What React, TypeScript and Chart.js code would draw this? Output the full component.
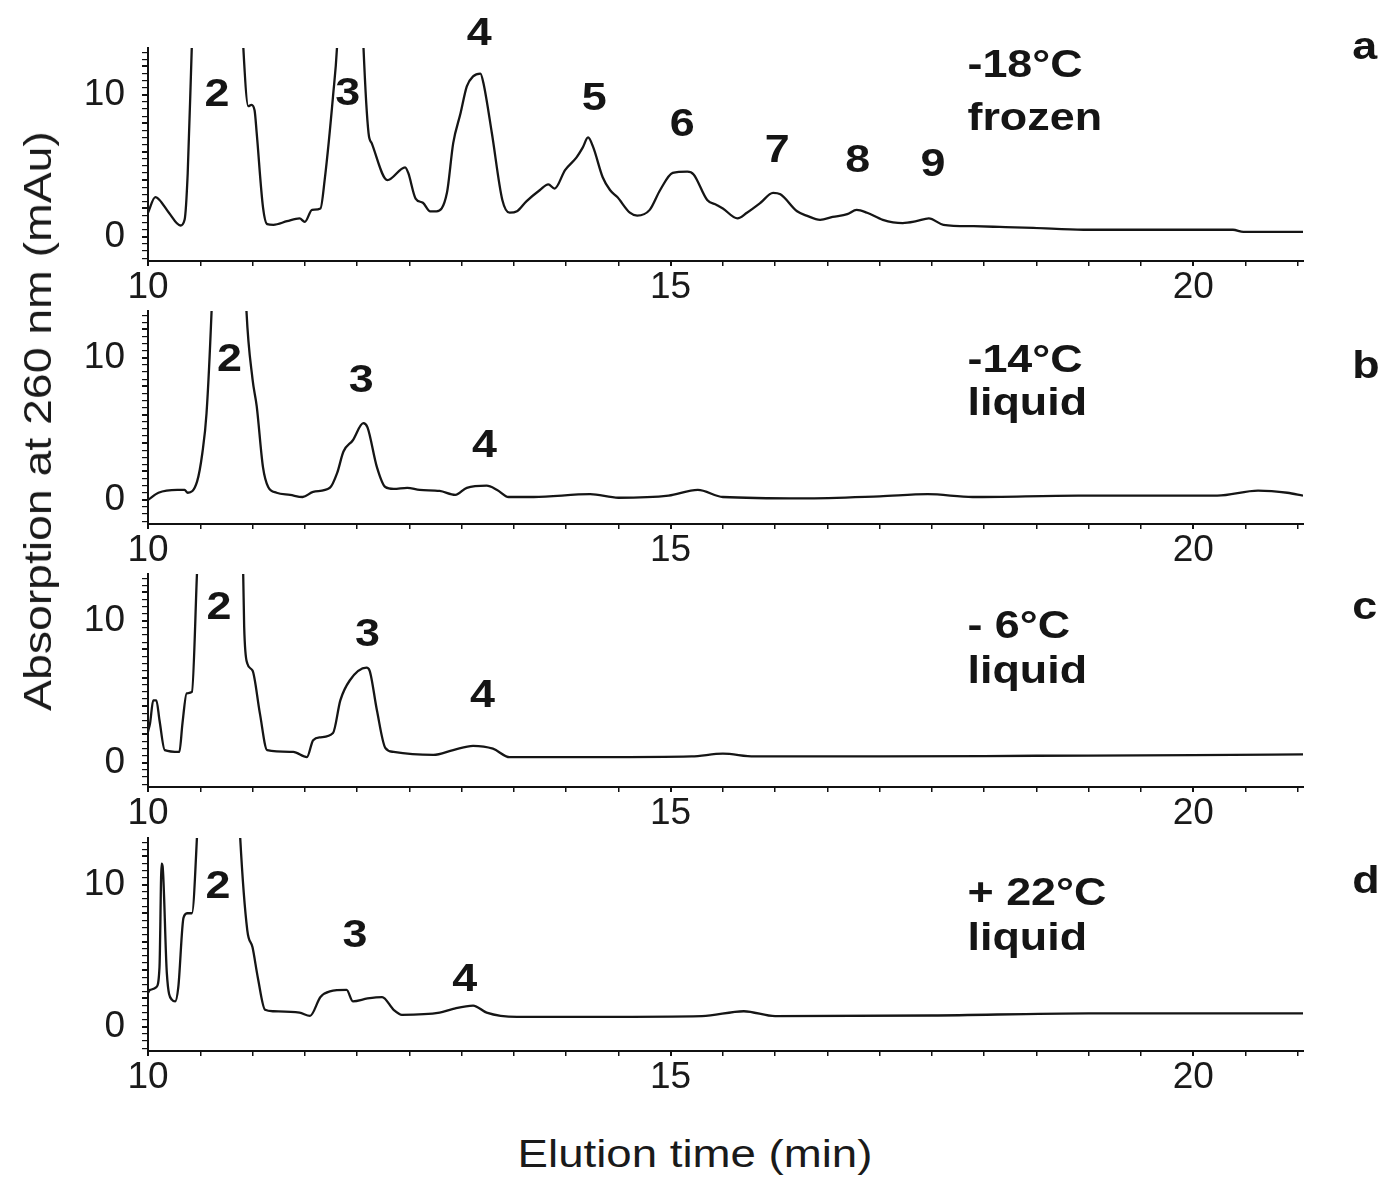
import React, { useEffect, useRef } from 'react';
import { Chart, registerables } from 'chart.js';

Chart.register(...registerables);

const FONT = '"Liberation Sans", Arial, Helvetica, sans-serif';

// ---------- axis ----------
const xMin = 10;
const xMax = 21.05;
const yMin = -1.7;
const yMax = 13.3;
const xTickLabels = [10, 15, 20];
const yTickLabels = [0, 10];
const xMinorStep = 0.5;
const yMinorStep = 0.5;

// ---------- panel a : -18 °C frozen ----------
const timeA = [10.0, 10.07, 10.11, 10.2, 10.31, 10.35, 10.38, 10.42, 10.66, 10.91, 10.96, 10.99, 11.02, 11.04, 11.1, 11.14, 11.2, 11.33, 11.45, 11.5, 11.57, 11.65, 11.69, 11.77, 11.81, 11.94, 12.06, 12.11, 12.14, 12.29, 12.46, 12.49, 12.56, 12.63, 12.7, 12.76, 12.86, 12.92, 12.99, 13.05, 13.11, 13.18, 13.21, 13.29, 13.39, 13.46, 13.53, 13.62, 13.75, 13.83, 13.89, 13.99, 14.1, 14.16, 14.21, 14.26, 14.35, 14.42, 14.49, 14.61, 14.68, 14.8, 14.9, 15.02, 15.16, 15.22, 15.35, 15.44, 15.5, 15.64, 15.73, 15.86, 15.98, 16.05, 16.21, 16.3, 16.43, 16.55, 16.69, 16.78, 16.88, 17.03, 17.22, 17.35, 17.47, 17.61, 17.9, 18.15, 18.47, 18.95, 19.5, 20.0, 20.38, 20.48, 21.05];
const absA = [1.7, 2.8, 2.6, 1.7, 0.8, 1.2, 4.5, 13.6, 60, 13.6, 9.2, 9.3, 8.9, 7.3, 2.1, 0.9, 0.85, 1.1, 1.3, 1.05, 1.9, 2.0, 4.0, 9.9, 13.6, 40, 13.6, 7.3, 6.6, 4.0, 4.9, 4.5, 2.7, 2.4, 1.8, 1.8, 3.1, 6.6, 8.7, 10.6, 11.3, 11.5, 10.8, 7.3, 2.6, 1.7, 1.8, 2.5, 3.3, 3.7, 3.4, 4.7, 5.6, 6.3, 7.0, 6.3, 4.2, 3.3, 2.8, 1.7, 1.5, 1.9, 3.3, 4.5, 4.6, 4.4, 2.6, 2.25, 2.0, 1.3, 1.7, 2.4, 3.1, 3.0, 1.8, 1.5, 1.2, 1.4, 1.6, 1.9, 1.7, 1.2, 0.97, 1.1, 1.3, 0.85, 0.75, 0.7, 0.63, 0.5, 0.5, 0.5, 0.5, 0.35, 0.35];
const peakNamesA = ['2', '3', '4', '5', '6', '7', '8', '9'];
const peakTimesA = [10.66, 11.91, 13.17, 14.27, 15.11, 16.02, 16.79, 17.51];
const peakLevelsA = [9.2, 9.3, 13.5, 8.9, 7.1, 5.3, 4.6, 4.3];

// ---------- panel b : -14 °C liquid ----------
const timeB = [10.0, 10.1, 10.28, 10.35, 10.38, 10.47, 10.52, 10.56, 10.61, 10.78, 10.94, 11.0, 11.04, 11.1, 11.15, 11.23, 11.36, 11.48, 11.58, 11.74, 11.81, 11.87, 11.96, 12.06, 12.1, 12.19, 12.27, 12.35, 12.48, 12.6, 12.79, 12.94, 13.05, 13.24, 13.34, 13.45, 13.69, 14.23, 14.5, 14.98, 15.26, 15.5, 16.26, 17.0, 17.46, 17.89, 18.9, 20.0, 20.23, 20.62, 20.9, 21.05];
const absB = [0.0, 0.5, 0.7, 0.7, 0.5, 1.3, 3.3, 6.1, 13.6, 50, 13.6, 8.5, 6.6, 2.3, 0.9, 0.5, 0.35, 0.2, 0.56, 0.85, 1.9, 3.4, 4.2, 5.4, 5.1, 2.3, 0.9, 0.77, 0.85, 0.7, 0.63, 0.35, 0.85, 1.0, 0.7, 0.2, 0.2, 0.4, 0.15, 0.3, 0.7, 0.2, 0.1, 0.25, 0.4, 0.2, 0.3, 0.3, 0.3, 0.65, 0.5, 0.3];
const peakNamesB = ['2', '3', '4'];
const peakTimesB = [10.78, 12.04, 13.22];
const peakLevelsB = [9.1, 7.6, 3.0];

// ---------- panel c : -6 °C liquid ----------
const timeC = [10.0, 10.02, 10.05, 10.08, 10.11, 10.16, 10.3, 10.33, 10.37, 10.42, 10.47, 10.69, 10.91, 10.92, 10.95, 11.0, 11.07, 11.14, 11.39, 11.52, 11.58, 11.65, 11.77, 11.84, 11.93, 12.09, 12.12, 12.19, 12.27, 12.35, 12.73, 12.92, 13.11, 13.3, 13.46, 14.33, 15.2, 15.5, 15.8, 17.0, 18.5, 20.0, 21.05];
const absC = [2.2, 2.8, 4.4, 4.4, 3.0, 0.9, 0.77, 2.8, 4.9, 5.0, 13.6, 50, 13.6, 9.6, 7.0, 6.5, 3.5, 0.9, 0.77, 0.4, 1.6, 1.8, 2.1, 4.4, 5.8, 6.7, 6.5, 3.7, 1.06, 0.77, 0.56, 0.9, 1.2, 1.0, 0.4, 0.4, 0.45, 0.65, 0.45, 0.45, 0.5, 0.55, 0.6];
const peakNamesC = ['2', '3', '4'];
const peakTimesC = [10.68, 12.1, 13.2];
const peakLevelsC = [10.1, 8.2, 3.9];

// ---------- panel d : +22 °C liquid ----------
const timeD = [10.0, 10.02, 10.08, 10.11, 10.13, 10.14, 10.18, 10.23, 10.26, 10.29, 10.34, 10.38, 10.42, 10.47, 10.67, 10.88, 10.95, 11.0, 11.05, 11.12, 11.2, 11.45, 11.55, 11.65, 11.74, 11.9, 11.96, 12.1, 12.24, 12.35, 12.43, 12.79, 12.92, 13.11, 13.24, 13.53, 14.33, 15.3, 15.7, 16.0, 17.5, 19.0, 20.0, 21.05];
const absD = [2.4, 2.6, 2.8, 4.2, 11.5, 11.3, 3.8, 1.9, 1.8, 2.8, 7.7, 8.0, 8.0, 13.6, 50, 13.6, 6.8, 5.6, 3.5, 1.2, 1.1, 1.0, 0.77, 2.1, 2.5, 2.6, 1.8, 2.0, 2.1, 1.2, 0.85, 1.0, 1.27, 1.5, 1.0, 0.7, 0.7, 0.75, 1.1, 0.75, 0.8, 0.95, 0.95, 0.95];
const peakNamesD = ['2', '3', '4'];
const peakTimesD = [10.67, 11.98, 13.03];
const peakLevelsD = [9.1, 5.6, 2.5];

// ---------- condition labels ----------
const conditionTemps = ['-18°C', '-14°C', '- 6°C', '+ 22°C'];
const conditionStates = ['frozen', 'liquid', 'liquid', 'liquid'];
const panelLetters = ['a', 'b', 'c', 'd'];

// ---------- layout (pixels) ----------
const PX_PER_UNIT = 14.2;
const PLOT_H = Math.round((yMax - yMin) * PX_PER_UNIT); // 213
const PANEL_TOPS = [48, 311, 574, 838];
const PAD_TOP = 42;
const X_AXIS_H = 60;
const Y_AXIS_W = 148;
const RIGHT_PAD = 79;
const W = 1382;
// label anchors in data coordinates of each panel
const condTime = 17.84;
const condLevels1 = [11.27, 9.0, 8.8, 8.6];
const condLevels2 = [7.54, 6.0, 5.6, 5.4];
const letterTime = 21.52;
const letterLevels = [12.5, 8.6, 10.1, 9.4];

function stepTicks(lo: number, hi: number, step: number) {
  const out: { value: number }[] = [];
  const start = Math.ceil(lo / step - 1e-9);
  const end = Math.floor(hi / step + 1e-9);
  for (let k = start; k <= end; k++) out.push({ value: Math.round(k * step * 1000) / 1000 });
  return out;
}

type PanelProps = {
  idx: number;
  times: number[];
  values: number[];
  names: string[];
  pTimes: number[];
  pLevels: number[];
};

function makeAnnotator(p: PanelProps) {
  return {
    id: 'annotate' + p.idx,
    afterDraw(chart: any) {
      const { ctx } = chart;
      const x = chart.scales.x;
      const y = chart.scales.y;
      const draw = (txt: string, t: number, v: number, align: CanvasTextAlign, sx: number) => {
        ctx.save();
        ctx.translate(x.getPixelForValue(t), y.getPixelForValue(v));
        ctx.scale(sx, 1);
        ctx.textAlign = align;
        ctx.fillText(txt, 0, 0);
        ctx.restore();
      };
      ctx.save();
      ctx.fillStyle = '#151515';
      ctx.textBaseline = 'alphabetic';
      ctx.font = `bold 39px ${FONT}`;
      p.names.forEach((n, i) => draw(n, p.pTimes[i], p.pLevels[i], 'center', 1.15));
      draw(conditionTemps[p.idx], condTime, condLevels1[p.idx], 'left', 1.15);
      draw(conditionStates[p.idx], condTime, condLevels2[p.idx], 'left', 1.15);
      draw(panelLetters[p.idx], letterTime, letterLevels[p.idx], 'left', 1.15);
      ctx.restore();
    },
  };
}

function Panel(p: PanelProps) {
  const ref = useRef<HTMLCanvasElement | null>(null);
  useEffect(() => {
    if (!ref.current) return;
    const data = p.times.map((t, i) => ({ x: t, y: p.values[i] }));
    const chart = new Chart(ref.current, {
      type: 'line',
      data: {
        datasets: [
          {
            data,
            borderColor: '#151515',
            borderWidth: 2.3,
            pointRadius: 0,
            fill: false,
            cubicInterpolationMode: 'monotone',
          },
        ],
      },
      options: {
        animation: false,
        responsive: false,
        devicePixelRatio: 1,
        events: [],
        layout: { padding: { top: PAD_TOP, right: RIGHT_PAD, left: 0, bottom: 0 } },
        plugins: { legend: { display: false }, tooltip: { enabled: false }, title: { display: false } },
        scales: {
          x: {
            type: 'linear',
            min: xMin,
            max: xMax,
            afterBuildTicks: (s: any) => {
              s.ticks = stepTicks(xMin, xMax, xMinorStep);
            },
            afterFit: (s: any) => {
              s.height = X_AXIS_H;
            },
            border: { display: true, color: '#111', width: 2 },
            grid: {
              drawOnChartArea: false,
              drawTicks: true,
              tickLength: 5,
              color: '#111',
              lineWidth: (c: any) => (c.tick && xTickLabels.includes(c.tick.value) ? 2 : 1.5),
            },
            ticks: {
              autoSkip: false,
              maxRotation: 0,
              padding: 0,
              color: '#1a1a1a',
              font: { family: FONT, size: 37 },
              callback: (v: any) => (xTickLabels.includes(Number(v)) ? String(v) : ''),
            },
          },
          y: {
            type: 'linear',
            min: yMin,
            max: yMax,
            afterBuildTicks: (s: any) => {
              s.ticks = stepTicks(yMin, yMax, yMinorStep);
            },
            afterFit: (s: any) => {
              s.width = Y_AXIS_W;
            },
            border: { display: true, color: '#111', width: 2 },
            grid: {
              drawOnChartArea: false,
              drawTicks: true,
              tickLength: 6,
              color: '#111',
              lineWidth: (c: any) => (c.tick && Math.abs(c.tick.value % 2) < 1e-6 ? 2 : 1.2),
            },
            ticks: {
              autoSkip: false,
              padding: 17,
              color: '#1a1a1a',
              font: { family: FONT, size: 37 },
              callback: (v: any) => (yTickLabels.includes(Number(v)) ? String(v) : ''),
            },
          },
        },
      },
      plugins: [makeAnnotator(p)],
    } as any);
    return () => chart.destroy();
  }, []);
  const top = PANEL_TOPS[p.idx] - PAD_TOP;
  const h = PAD_TOP + PLOT_H + X_AXIS_H;
  return (
    <canvas
      ref={ref}
      width={W}
      height={h}
      style={{ position: 'absolute', left: 0, top, width: W, height: h }}
    />
  );
}

export default function App() {
  return (
    <div
      style={{
        position: 'absolute',
        left: 0,
        top: 0,
        width: W,
        height: 1180,
        background: '#fff',
        overflow: 'hidden',
      }}
    >
      <Panel idx={0} times={timeA} values={absA} names={peakNamesA} pTimes={peakTimesA} pLevels={peakLevelsA} />
      <Panel idx={1} times={timeB} values={absB} names={peakNamesB} pTimes={peakTimesB} pLevels={peakLevelsB} />
      <Panel idx={2} times={timeC} values={absC} names={peakNamesC} pTimes={peakTimesC} pLevels={peakLevelsC} />
      <Panel idx={3} times={timeD} values={absD} names={peakNamesD} pTimes={peakTimesD} pLevels={peakLevelsD} />
      <div
        style={{
          position: 'absolute',
          left: 38,
          top: 421,
          fontFamily: FONT,
          fontSize: 38,
          lineHeight: '38px',
          color: '#1a1a1a',
          whiteSpace: 'nowrap',
          transform: 'translate(-50%, -50%) rotate(-90deg) scaleX(1.22)',
        }}
      >
        Absorption at 260 nm (mAu)
      </div>
      <div
        style={{
          position: 'absolute',
          left: 695,
          top: 1135,
          fontFamily: FONT,
          fontSize: 38,
          lineHeight: '38px',
          color: '#1a1a1a',
          whiteSpace: 'nowrap',
          transform: 'translateX(-50%) scaleX(1.2)',
        }}
      >
        Elution time (min)
      </div>
    </div>
  );
}
